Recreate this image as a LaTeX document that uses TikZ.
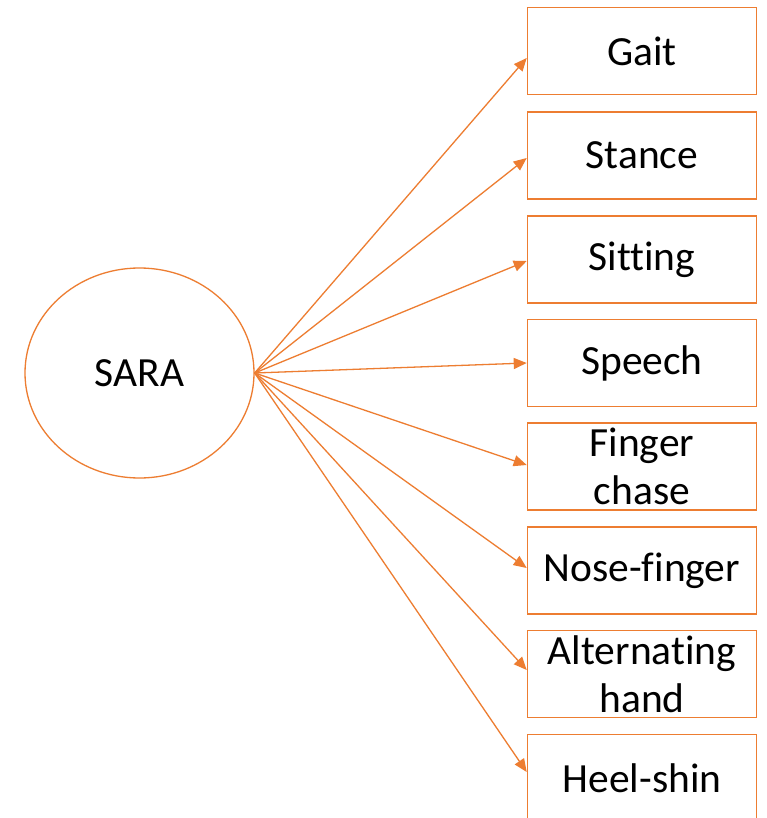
\documentclass[tikz,border=0pt]{standalone}
\usepackage{fontspec}
\setmainfont{Carlito}[Ligatures={NoCommon,NoRequired,NoContextual}]
\usetikzlibrary{arrows.meta,shapes.geometric}
\definecolor{accent}{HTML}{ED7D31}
\begin{document}
\begin{tikzpicture}[x=1pt,y=-1pt,
  labelfont/.style={font=\fontsize{41.5}{48}\selectfont},
  item/.style={draw=accent,line width=1.6pt,minimum width=229pt,minimum height=87pt,
    inner sep=0pt,align=center,labelfont},
  link/.style={draw=accent,line width=1.3pt,-{Triangle[length=13pt,width=11pt]}}]
\useasboundingbox (0,0) rectangle (767,818);
\clip (0,0) rectangle (767,818);
\fill[white] (0,0) rectangle (767,818);

% central construct
\node[ellipse,draw=accent,line width=1.3pt,minimum width=229pt,minimum height=210pt,
  inner sep=0pt,labelfont] (sara) at (139.5,373) {SARA};

% items
\node[item] (gait)    at (642,51)    {Gait};
\node[item] (stance)  at (642,155.5) {Stance};
\node[item] (sitting) at (642,259.5) {Sitting};
\node[item] (speech)  at (642,363)   {Speech};
\node[item] (finger)  at (642,466.5) {Finger\\chase};
\node[item] (nose)    at (642,570.5) {Nose-finger};
\node[item] (alt)     at (642,674)   {Alternating\\hand};
\node[item] (heel)    at (642,778)   {Heel-shin};

% loadings
\draw[link] (sara.east) -- ([yshift=-7pt]gait.west);
\draw[link] (sara.east) -- ([yshift=-2.5pt]stance.west);
\draw[link] (sara.east) -- ([yshift=-1.5pt]sitting.west);
\draw[link] (sara.east) -- (speech.west);
\draw[link] (sara.east) -- ([yshift=1.5pt]finger.west);
\draw[link] (sara.east) -- ([yshift=2.5pt]nose.west);
\draw[link] (sara.east) -- ([yshift=4pt]alt.west);
\draw[link] (sara.east) -- ([yshift=6pt]heel.west);
\end{tikzpicture}
\end{document}
